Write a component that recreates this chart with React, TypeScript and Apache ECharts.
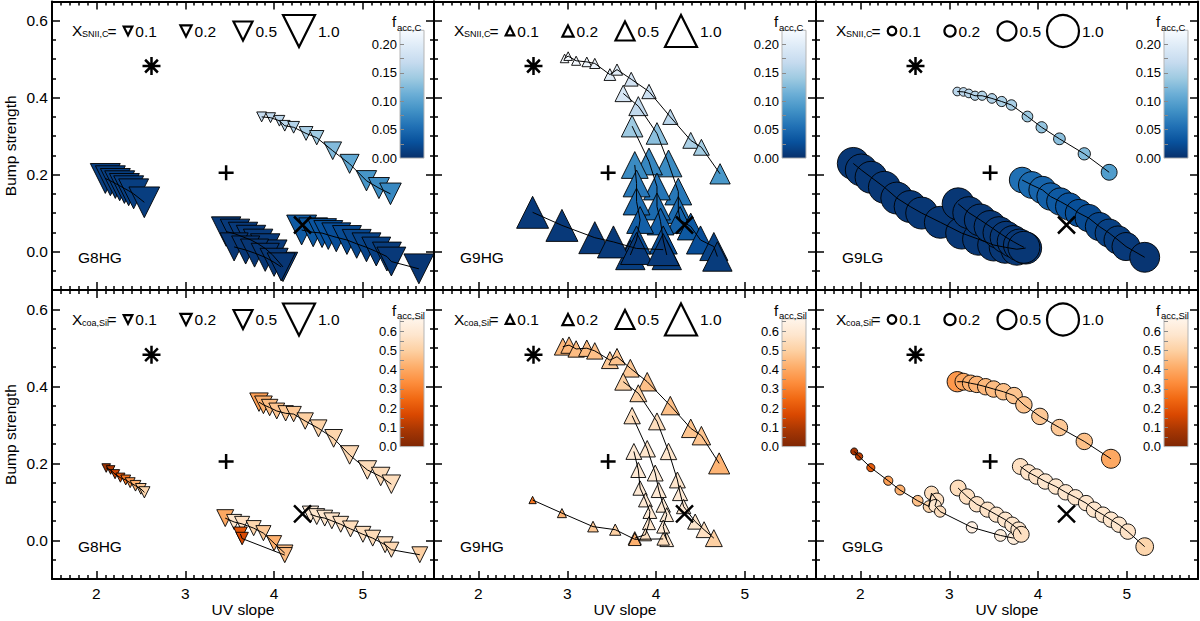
import React, { useEffect, useRef } from 'react';
import * as echarts from 'echarts';

// reference galaxies: asterisk, plus, cross (same in every panel)
const refPoints = [
  [2.62, 0.482],
  [3.46, 0.205],
  [4.32, 0.069],
];

const xTicks = [2, 3, 4, 5];
const yTicks = [0, 0.2, 0.4, 0.6];
const cbTicksC = [0, 0.05, 0.1, 0.15, 0.2];
const cbTicksSil = [0, 0.1, 0.2, 0.3, 0.4, 0.5, 0.6];
const legendSizes = [0.1, 0.2, 0.5, 1.0];
const panelNames = ['G8HG', 'G9HG', 'G9LG'];

// each point: [UV slope, bump strength, X (symbol size), f_acc (colour)]
// --- top row: carbon ---
const g8hgC1 = [
  [3.86, 0.35, 0.15, 0.168], [3.96, 0.348, 0.15, 0.165], [4.06, 0.34, 0.18, 0.162],
  [4.12, 0.327, 0.18, 0.16], [4.22, 0.323, 0.22, 0.156], [4.36, 0.307, 0.3, 0.148],
  [4.48, 0.296, 0.32, 0.142], [4.66, 0.262, 0.45, 0.125], [4.85, 0.228, 0.5, 0.105],
  [5.04, 0.184, 0.55, 0.088], [5.18, 0.165, 0.58, 0.08], [5.31, 0.15, 0.6, 0.076],
];
const g8hgC2 = [
  [2.1, 0.19, 0.92, 0.012], [2.157, 0.184, 0.92, 0.012], [2.213, 0.177, 0.92, 0.012],
  [2.262, 0.171, 0.92, 0.012], [2.315, 0.164, 0.92, 0.012], [2.363, 0.158, 0.92, 0.012],
  [2.419, 0.15, 0.92, 0.012], [2.539, 0.128, 0.95, 0.012],
];
const g8hgC3 = [
  [3.46, 0.052, 0.9, 0.008], [3.56, 0.046, 0.9, 0.008], [3.65, 0.038, 0.9, 0.008],
  [3.74, 0.03, 0.9, 0.008], [3.82, 0.02, 0.9, 0.008], [3.9, 0.008, 0.9, 0.008],
  [3.98, -0.008, 0.9, 0.008], [4.1, -0.04, 0.9, 0.008],
];
const g8hgC4 = [
  [3.55, 0.012, 0.85, 0.005], [3.68, 0.004, 0.85, 0.005], [3.78, -0.004, 0.85, 0.005],
  [3.9, -0.015, 0.85, 0.005], [4.0, -0.028, 0.85, 0.005], [4.08, -0.04, 0.85, 0.005],
];
const g8hgC5 = [
  [4.31, 0.056, 0.92, 0.036], [4.44, 0.05, 0.88, 0.033], [4.54, 0.048, 0.88, 0.031],
  [4.61, 0.043, 0.88, 0.028], [4.7, 0.037, 0.88, 0.025], [4.82, 0.03, 0.88, 0.022],
  [4.93, 0.02, 0.88, 0.019], [5.04, 0.011, 0.88, 0.016], [5.15, 0.0, 0.88, 0.013],
  [5.27, -0.013, 0.88, 0.01], [5.32, -0.026, 0.88, 0.008], [5.63, -0.045, 0.92, 0.005],
];
const g9hgC1 = [
  [2.97, 0.502, 0.1, 0.225], [3.01, 0.508, 0.1, 0.222], [3.1, 0.496, 0.12, 0.22],
  [3.22, 0.493, 0.14, 0.215], [3.31, 0.489, 0.16, 0.21], [3.48, 0.46, 0.22, 0.2],
  [3.56, 0.473, 0.2, 0.2], [3.72, 0.448, 0.3, 0.185], [3.92, 0.416, 0.32, 0.175],
  [4.16, 0.35, 0.35, 0.16], [4.39, 0.289, 0.38, 0.15], [4.51, 0.271, 0.38, 0.145],
  [4.72, 0.202, 0.55, 0.09],
];
const g9hgC2 = [
  [3.63, 0.411, 0.4, 0.19], [3.8, 0.378, 0.5, 0.165], [4.01, 0.307, 0.6, 0.13],
  [4.14, 0.229, 0.8, 0.078], [4.25, 0.156, 0.8, 0.062], [4.25, 0.108, 0.8, 0.05],
  [4.27, 0.082, 0.8, 0.042], [4.39, 0.065, 0.8, 0.035], [4.5, 0.03, 0.85, 0.025],
  [4.65, 0.013, 0.85, 0.015], [4.69, -0.013, 0.9, 0.01],
];
const g9hgC3 = [
  [3.73, 0.326, 0.6, 0.14], [3.92, 0.234, 0.8, 0.075], [4.01, 0.169, 0.8, 0.06],
  [4.01, 0.117, 0.8, 0.05], [4.05, 0.078, 0.8, 0.04], [4.08, 0.03, 0.85, 0.025],
  [4.12, -0.009, 0.9, 0.012],
];
const g9hgC4 = [
  [3.76, 0.225, 0.8, 0.078], [3.78, 0.177, 0.8, 0.062], [3.78, 0.13, 0.8, 0.05],
  [3.82, 0.082, 0.8, 0.04], [3.78, 0.03, 0.85, 0.025], [3.71, -0.009, 0.9, 0.012],
];
const g9hgC5 = [
  [2.61, 0.102, 1.0, 0.008], [2.94, 0.068, 1.0, 0.008], [3.31, 0.036, 1.0, 0.008],
  [3.52, 0.025, 1.0, 0.008], [3.78, 0.008, 1.0, 0.008], [4.08, 0.005, 1.0, 0.008],
];
const g9lgC1 = [
  [3.09, 0.416, 0.1, 0.16], [3.16, 0.415, 0.1, 0.16], [3.22, 0.411, 0.1, 0.158],
  [3.29, 0.405, 0.12, 0.156], [3.37, 0.405, 0.12, 0.155], [3.48, 0.398, 0.14, 0.153],
  [3.59, 0.39, 0.16, 0.15], [3.7, 0.381, 0.17, 0.148], [3.88, 0.351, 0.18, 0.14],
  [4.04, 0.323, 0.2, 0.135], [4.24, 0.293, 0.22, 0.13], [4.52, 0.254, 0.24, 0.125],
  [4.8, 0.206, 0.38, 0.095],
];
const g9lgC2 = [
  [1.92, 0.229, 1.0, 0.006], [2.01, 0.212, 1.0, 0.006], [2.12, 0.193, 1.0, 0.006],
  [2.27, 0.167, 1.0, 0.006], [2.41, 0.139, 1.0, 0.006], [2.56, 0.117, 1.0, 0.006],
  [2.69, 0.1, 1.0, 0.006], [2.9, 0.076, 1.0, 0.006], [3.14, 0.048, 1.0, 0.006],
  [3.33, 0.032, 1.0, 0.006], [3.5, 0.017, 1.0, 0.006], [3.63, 0.011, 1.0, 0.006],
  [3.76, 0.006, 1.0, 0.006], [3.86, 0.009, 1.0, 0.006],
];
const g9lgC3 = [
  [3.1, 0.124, 1.0, 0.006], [3.22, 0.101, 1.0, 0.006], [3.35, 0.082, 1.0, 0.006],
  [3.46, 0.065, 1.0, 0.006], [3.56, 0.049, 1.0, 0.006], [3.64, 0.037, 1.0, 0.006],
  [3.72, 0.026, 1.0, 0.006], [3.79, 0.017, 1.0, 0.006], [3.84, 0.011, 1.0, 0.006],
];
const g9lgC4 = [
  [3.82, 0.186, 0.75, 0.055], [3.93, 0.173, 0.8, 0.05], [4.05, 0.16, 0.82, 0.045],
  [4.14, 0.143, 0.82, 0.04], [4.25, 0.13, 0.82, 0.035], [4.35, 0.117, 0.82, 0.03],
  [4.46, 0.1, 0.82, 0.026], [4.57, 0.087, 0.82, 0.022], [4.69, 0.065, 0.85, 0.018],
  [4.8, 0.048, 0.85, 0.014], [4.9, 0.03, 0.85, 0.011], [4.99, 0.013, 0.85, 0.008],
  [5.2, -0.015, 0.92, 0.004],
];
// --- bottom row: silicate ---
const g8hgS1 = [
  [2.11, 0.188, 0.1, 0.07], [2.16, 0.183, 0.1, 0.1], [2.21, 0.172, 0.12, 0.15],
  [2.27, 0.163, 0.12, 0.2], [2.33, 0.157, 0.15, 0.28], [2.38, 0.15, 0.15, 0.36],
  [2.44, 0.142, 0.18, 0.42], [2.5, 0.134, 0.18, 0.48], [2.54, 0.125, 0.2, 0.52],
];
const g8hgS2 = [
  [3.83, 0.359, 0.48, 0.38], [3.88, 0.352, 0.45, 0.42], [3.95, 0.345, 0.4, 0.45],
  [4.03, 0.336, 0.38, 0.47], [4.13, 0.33, 0.36, 0.48], [4.22, 0.328, 0.36, 0.48],
  [4.35, 0.31, 0.4, 0.5], [4.5, 0.291, 0.42, 0.51], [4.67, 0.265, 0.45, 0.52],
  [4.85, 0.222, 0.48, 0.53], [5.05, 0.183, 0.48, 0.54], [5.2, 0.166, 0.48, 0.54],
  [5.32, 0.146, 0.48, 0.55],
];
const g8hgS3 = [
  [3.45, 0.058, 0.42, 0.4], [3.55, 0.048, 0.35, 0.58], [3.64, 0.043, 0.35, 0.56],
  [3.77, 0.032, 0.35, 0.52], [3.88, 0.019, 0.35, 0.48], [4.0, -0.007, 0.35, 0.42],
  [4.12, -0.033, 0.4, 0.45],
];
const g8hgS4 = [
  [3.62, 0.017, 0.3, 0.2], [3.64, 0.005, 0.25, 0.17], [4.12, -0.038, 0.35, 0.45],
];
const g8hgS5 = [
  [4.41, 0.068, 0.4, 0.6], [4.48, 0.062, 0.38, 0.58], [4.57, 0.058, 0.38, 0.58],
  [4.65, 0.051, 0.38, 0.57], [4.75, 0.042, 0.38, 0.56], [4.86, 0.03, 0.38, 0.55],
  [5.0, 0.016, 0.38, 0.55], [5.11, 0.006, 0.38, 0.54], [5.25, -0.011, 0.38, 0.54],
  [5.32, -0.024, 0.35, 0.53], [5.64, -0.037, 0.38, 0.5],
];
const g9hgS1 = [
  [2.95, 0.503, 0.42, 0.44], [3.02, 0.507, 0.4, 0.44], [3.1, 0.497, 0.4, 0.45],
  [3.22, 0.499, 0.4, 0.45], [3.31, 0.492, 0.4, 0.46], [3.48, 0.468, 0.42, 0.48],
  [3.56, 0.477, 0.4, 0.47], [3.71, 0.447, 0.45, 0.48], [3.9, 0.412, 0.48, 0.46],
  [4.16, 0.35, 0.48, 0.46], [4.39, 0.291, 0.48, 0.47], [4.51, 0.272, 0.48, 0.47],
  [4.71, 0.2, 0.58, 0.43],
];
const g9hgS2 = [
  [3.63, 0.412, 0.42, 0.5], [3.8, 0.382, 0.42, 0.5], [4.01, 0.309, 0.42, 0.55],
  [4.14, 0.231, 0.4, 0.58], [4.24, 0.157, 0.38, 0.58], [4.27, 0.123, 0.35, 0.6],
  [4.31, 0.088, 0.32, 0.6], [4.44, 0.049, 0.35, 0.58], [4.54, 0.028, 0.38, 0.56],
  [4.65, 0.006, 0.42, 0.5],
];
const g9hgS3 = [
  [3.73, 0.324, 0.4, 0.55], [3.9, 0.238, 0.4, 0.58], [3.99, 0.175, 0.38, 0.6],
  [4.03, 0.131, 0.35, 0.6], [4.08, 0.092, 0.32, 0.6], [4.12, 0.067, 0.3, 0.6],
  [4.08, 0.036, 0.27, 0.6], [4.12, 0.002, 0.3, 0.58],
];
const g9hgS4 = [
  [3.75, 0.231, 0.38, 0.6], [3.8, 0.183, 0.35, 0.6], [3.82, 0.136, 0.32, 0.6],
  [3.88, 0.105, 0.3, 0.6], [3.93, 0.075, 0.3, 0.6], [3.92, 0.045, 0.27, 0.58],
  [3.88, 0.015, 0.24, 0.56], [3.76, 0.006, 0.27, 0.45],
];
const g9hgS5 = [
  [2.61, 0.105, 0.05, 0.28], [2.94, 0.071, 0.12, 0.43], [3.29, 0.036, 0.18, 0.48],
  [3.54, 0.028, 0.2, 0.5], [3.76, 0.003, 0.25, 0.42], [4.08, 0.004, 0.25, 0.55],
];
const g9lgS1 = [
  [3.09, 0.412, 0.55, 0.36], [3.16, 0.412, 0.42, 0.4], [3.24, 0.408, 0.4, 0.42],
  [3.31, 0.405, 0.4, 0.43], [3.41, 0.399, 0.4, 0.44], [3.5, 0.393, 0.4, 0.45],
  [3.61, 0.386, 0.4, 0.46], [3.73, 0.376, 0.4, 0.47], [3.84, 0.352, 0.4, 0.47],
  [4.02, 0.322, 0.4, 0.48], [4.24, 0.293, 0.4, 0.48], [4.52, 0.257, 0.4, 0.46],
  [4.82, 0.212, 0.5, 0.4],
];
const g9lgS2 = [
  [1.93, 0.231, 0.04, 0.08], [1.985, 0.218, 0.05, 0.12], [2.117, 0.189, 0.08, 0.22],
  [2.313, 0.155, 0.12, 0.38], [2.445, 0.131, 0.15, 0.42], [2.645, 0.103, 0.18, 0.46],
  [2.773, 0.088, 0.22, 0.52], [2.8, 0.123, 0.3, 0.55], [2.86, 0.105, 0.3, 0.56],
  [2.84, 0.09, 0.25, 0.58], [2.897, 0.075, 0.2, 0.55], [3.255, 0.034, 0.2, 0.64],
  [3.576, 0.013, 0.22, 0.62], [3.726, 0.006, 0.25, 0.62],
];
const g9lgS3 = [
  [3.1, 0.136, 0.38, 0.55], [3.2, 0.114, 0.36, 0.56], [3.31, 0.094, 0.36, 0.57],
  [3.43, 0.08, 0.35, 0.57], [3.53, 0.067, 0.35, 0.58], [3.63, 0.054, 0.35, 0.58],
  [3.71, 0.041, 0.35, 0.58], [3.78, 0.028, 0.36, 0.58], [3.81, 0.016, 0.38, 0.56],
];
const g9lgS4 = [
  [3.8, 0.192, 0.38, 0.56], [3.89, 0.177, 0.36, 0.57], [3.98, 0.166, 0.36, 0.57],
  [4.08, 0.153, 0.36, 0.58], [4.2, 0.14, 0.36, 0.58], [4.31, 0.125, 0.36, 0.58],
  [4.42, 0.112, 0.36, 0.58], [4.54, 0.097, 0.36, 0.58], [4.63, 0.08, 0.36, 0.58],
  [4.73, 0.067, 0.36, 0.58], [4.82, 0.054, 0.36, 0.58], [4.91, 0.041, 0.36, 0.58],
  [5.01, 0.023, 0.36, 0.57], [5.2, -0.016, 0.45, 0.52],
];

const panelTracks = [
  [g8hgC1, g8hgC2, g8hgC3, g8hgC4, g8hgC5],
  [g9hgC1, g9hgC2, g9hgC3, g9hgC4, g9hgC5],
  [g9lgC1, g9lgC2, g9lgC3, g9lgC4],
  [g8hgS1, g8hgS2, g8hgS3, g8hgS4, g8hgS5],
  [g9hgS1, g9hgS2, g9hgS3, g9hgS4, g9hgS5],
  [g9lgS1, g9lgS2, g9lgS3, g9lgS4],
];

const blues = ['#08306b', '#08519c', '#2171b5', '#4292c6', '#6baed6', '#9ecae1', '#c6dbef', '#deebf7', '#f7fbff'];
const oranges = ['#7f2704', '#a63603', '#d94801', '#f16913', '#fd8d3c', '#fdae6b', '#fdd0a2', '#fee6ce', '#fff5eb'];

const FONT = 'Liberation Sans, Arial, Helvetica, sans-serif';
const PANEL_LEFT = [52, 434, 816];
const PANEL_W = 382;
const ROW_TOP = [1.5, 290];
const ROW_H = [288.5, 289];
const X_MIN = 1.5;
const X_MAX = 5.8;
const Y_MIN = -0.1;
const Y_MAX = 0.65;

const rows = [
  { sub: 'SNII,C', cbSub: 'acc,C', cbMax: 0.225, cbTicks: cbTicksC, cbStep: 0.025, digits: 2, colors: blues },
  { sub: 'coa,Sil', cbSub: 'acc,Sil', cbMax: 0.665, cbTicks: cbTicksSil, cbStep: 0.05, digits: 1, colors: oranges },
];
const cols = [
  { symbol: 'triangle', rotate: 180 },
  { symbol: 'triangle', rotate: 0 },
  { symbol: 'circle', rotate: 0 },
];
const markerSymbols = [
  'path://M5,0L5,10M0,5L10,5M1.46,1.46L8.54,8.54M8.54,1.46L1.46,8.54',
  'path://M5,0L5,10M0,5L10,5',
  'path://M0,0L10,10M10,0L0,10',
];
const markerSizes = [18, 15, 17];

const symSize = (x: number) => 6 + 26 * x;

const minorX: number[] = [];
for (let i = 16; i <= 57; i++) if (i % 10) minorX.push(i / 10);
const minorY: number[] = [];
for (let i = -1; i <= 12; i++) if (i % 4) minorY.push(+(i * 0.05).toFixed(2));

const txt = (x: number, y: number, text: string, size: number, align = 'left') => ({
  type: 'text',
  x,
  y,
  z: 20,
  style: { text, fill: '#000', fontSize: size, fontFamily: FONT, align, verticalAlign: 'middle' },
});

function legendShape(col: number, cx: number, cy: number, s: number) {
  const style = { fill: '#fff', stroke: '#000', lineWidth: 2.2 };
  if (col === 2) return { type: 'circle', z: 20, shape: { cx, cy, r: s / 2 }, style };
  const h = s / 2;
  const points =
    col === 0
      ? [[cx - h, cy - h], [cx + h, cy - h], [cx, cy + h]]
      : [[cx, cy - h], [cx + h, cy + h], [cx - h, cy + h]];
  return { type: 'polygon', z: 20, shape: { points }, style };
}

function buildOption() {
  const grid: any[] = [];
  const xAxis: any[] = [];
  const yAxis: any[] = [];
  const series: any[] = [];
  const graphic: any[] = [];
  const colored: number[][] = [[], []];
  const tickLine = { color: '#000', width: 1.5 };
  const labelStyle = { color: '#000', fontSize: 15.5, fontFamily: FONT };
  const none = { show: false };
  const hiddenLine = { show: false, onZero: false };

  for (let row = 0; row < 2; row++) {
    for (let col = 0; col < 3; col++) {
      const g = row * 3 + col;
      const L = PANEL_LEFT[col];
      const T = ROW_TOP[row];
      const R = rows[row];
      grid.push({ left: L, top: T, width: PANEL_W, height: ROW_H[row], containLabel: false, outerBoundsMode: 'none' });

      const xb = { type: 'value', gridIndex: g, min: X_MIN, max: X_MAX, splitLine: none, axisLabel: none, axisLine: hiddenLine };
      for (const pos of ['bottom', 'top']) {
        const withLabel = pos === 'bottom' && row === 1;
        xAxis.push({
          ...xb,
          position: pos,
          axisLine: { show: true, onZero: false, lineStyle: { color: '#000', width: 2 } },
          axisTick: { show: true, inside: true, length: 8, customValues: xTicks, lineStyle: tickLine },
          axisLabel: withLabel ? { show: true, customValues: xTicks, margin: 6, ...labelStyle } : none,
          name: withLabel ? 'UV slope' : '',
          nameLocation: 'middle',
          nameGap: 22,
          nameTextStyle: labelStyle,
        });
        xAxis.push({
          ...xb,
          position: pos,
          axisTick: { show: true, inside: true, length: 4, customValues: minorX, lineStyle: tickLine },
        });
      }
      const yb = { type: 'value', gridIndex: g, min: Y_MIN, max: Y_MAX, splitLine: none, axisLabel: none, axisLine: hiddenLine };
      for (const pos of ['left', 'right']) {
        const withLabel = pos === 'left' && col === 0;
        yAxis.push({
          ...yb,
          position: pos,
          axisLine: { show: true, onZero: false, lineStyle: { color: '#000', width: 2 } },
          axisTick: { show: true, inside: true, length: 8, customValues: yTicks, lineStyle: tickLine },
          axisLabel: withLabel
            ? { show: true, customValues: yTicks, margin: 4, formatter: (v: number) => v.toFixed(1), ...labelStyle }
            : none,
          name: withLabel ? 'Bump strength' : '',
          nameLocation: 'middle',
          nameGap: 34,
          nameTextStyle: labelStyle,
        });
        yAxis.push({
          ...yb,
          position: pos,
          axisTick: { show: true, inside: true, length: 4, customValues: minorY, lineStyle: tickLine },
        });
      }

      // model tracks
      panelTracks[g].forEach((track) => {
        colored[row].push(series.length);
        series.push({
          type: 'scatter',
          xAxisIndex: g * 4,
          yAxisIndex: g * 4,
          data: track,
          symbol: cols[col].symbol,
          symbolRotate: cols[col].rotate,
          symbolSize: (v: number[]) => symSize(v[2]),
          itemStyle: { borderColor: '#000', borderWidth: 0.9, opacity: 1 },
          silent: true,
          z: 2,
        });
        series.push({
          type: 'line',
          xAxisIndex: g * 4,
          yAxisIndex: g * 4,
          data: track.map((p) => [p[0], p[1]]),
          symbol: 'none',
          showSymbol: false,
          lineStyle: { color: '#000', width: 1 },
          silent: true,
          z: 3,
        });
      });

      // reference points
      series.push({
        type: 'scatter',
        xAxisIndex: g * 4,
        yAxisIndex: g * 4,
        data: refPoints.map((p, i) => ({ value: p, symbol: markerSymbols[i], symbolSize: markerSizes[i] })),
        itemStyle: { color: 'rgba(0,0,0,0)', borderColor: '#000', borderWidth: 2.5, opacity: 1 },
        silent: true,
        z: 4,
      });

      // legend of symbol sizes
      const ly = T + 29.5;
      graphic.push(txt(L + 20, ly - 0.5, 'X', 15.5));
      graphic.push(txt(L + 30, ly + 3, R.sub, 9));
      graphic.push(txt(L + 55.5, ly, '=', 15.5));
      const centers = [76, 134, 191, 247];
      legendSizes.forEach((sz, i) => {
        const s = symSize(sz);
        graphic.push(legendShape(col, L + centers[i], ly, s));
        graphic.push(txt(L + centers[i] + s / 2 + 3, ly, sz.toFixed(1), 15.5));
      });

      // panel name
      graphic.push(txt(L + 26, T + 256, panelNames[col], 15.5));

      // colour bar
      const cbx = L + 348;
      const cby = T + 28.8;
      const cbh = 127.8;
      const stops = R.colors.map((c, i) => ({ offset: i / (R.colors.length - 1), color: c }));
      graphic.push({
        type: 'rect',
        z: 1,
        shape: { x: cbx, y: cby, width: 24, height: cbh },
        style: { fill: new echarts.graphic.LinearGradient(0, 1, 0, 0, stops), stroke: '#b5b5b5', lineWidth: 1 },
      });
      graphic.push(txt(L + 340, T + 20, 'f', 15));
      graphic.push(txt(L + 345, T + 25.5, R.cbSub, 9.5));

      const cbTickVals: number[] = [];
      for (let i = 1; i * R.cbStep < R.cbMax - 1e-6; i++) cbTickVals.push(+(i * R.cbStep).toFixed(3));
      grid.push({ left: cbx, top: cby, width: 24, height: cbh, containLabel: false, outerBoundsMode: 'none' });
      xAxis.push({ type: 'value', gridIndex: 6 + g, min: 0, max: 1, show: false, axisLine: hiddenLine });
      yAxis.push({
        type: 'value',
        gridIndex: 6 + g,
        min: 0,
        max: R.cbMax,
        position: 'left',
        z: 10,
        splitLine: none,
        axisLine: hiddenLine,
        axisTick: { show: true, inside: true, length: 4, customValues: cbTickVals, lineStyle: { color: '#8a8a8a', width: 1 } },
        axisLabel: {
          show: true,
          customValues: R.cbTicks,
          margin: 3,
          formatter: (v: number) => v.toFixed(R.digits),
          color: '#000',
          fontSize: 13,
          fontFamily: FONT,
        },
      });
    }
  }

  // main grids and their axes first, colour-bar grids after
  const mainX = xAxis.filter((a) => a.gridIndex < 6);
  const cbX = xAxis.filter((a) => a.gridIndex >= 6);
  const mainY = yAxis.filter((a) => a.gridIndex < 6);
  const cbY = yAxis.filter((a) => a.gridIndex >= 6);
  const gridSorted = [
    ...grid.filter((_, i) => i % 2 === 0),
    ...grid.filter((_, i) => i % 2 === 1),
  ];

  return {
    animation: false,
    backgroundColor: '#fff',
    grid: gridSorted,
    xAxis: [...mainX, ...cbX],
    yAxis: [...mainY, ...cbY],
    visualMap: [
      { type: 'continuous', show: false, min: 0, max: 0.225, dimension: 3, seriesIndex: colored[0], inRange: { color: blues } },
      { type: 'continuous', show: false, min: 0, max: 0.665, dimension: 3, seriesIndex: colored[1], inRange: { color: oranges } },
    ],
    graphic: { elements: graphic },
    series,
  };
}

export default function App() {
  const ref = useRef<HTMLDivElement>(null);

  useEffect(() => {
    if (!ref.current) return;
    const chart = echarts.init(ref.current, null, { renderer: 'svg' });
    chart.setOption(buildOption() as any);
    return () => {
      chart.dispose();
    };
  }, []);

  return (
    <div
      ref={ref}
      style={{ position: 'absolute', left: 0, top: 0, width: 1200, height: 621, background: '#fff' }}
    />
  );
}
